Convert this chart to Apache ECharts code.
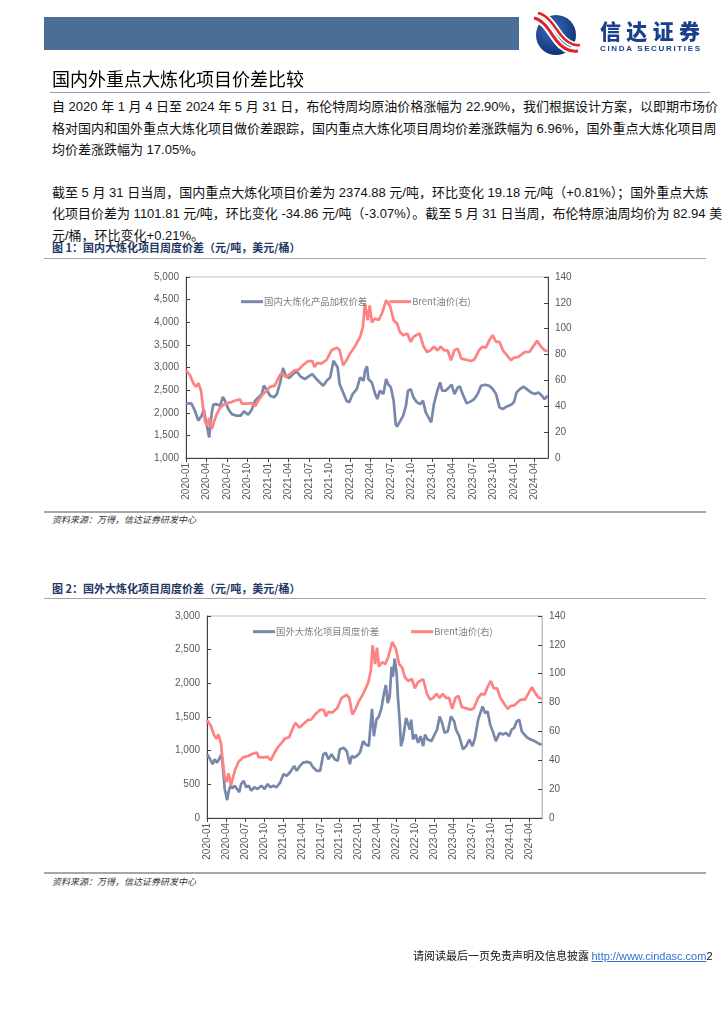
<!DOCTYPE html>
<html><head><meta charset="utf-8">
<script src="https://cdn.jsdelivr.net/npm/echarts@6/dist/echarts.min.js"></script>
<style>
html,body{margin:0;padding:0;background:#fff;}
body{width:724px;height:1024px;position:relative;overflow:hidden;font-family:"Liberation Sans","Noto Sans CJK SC",sans-serif;}
.abs{position:absolute;z-index:2;}
.line{position:absolute;left:52px;width:654px;font-size:13px;color:#111;white-space:nowrap;text-align:justify;text-align-last:justify;line-height:16px;}
.line.last{text-align-last:left;}
.fig{position:absolute;left:52px;font-size:11px;font-weight:bold;color:#1F3864;font-family:"Noto Sans CJK SC",sans-serif;line-height:14px;}
.src{position:absolute;left:52px;font-size:9px;font-style:italic;color:#333;font-family:"Noto Sans CJK SC",sans-serif;line-height:12px;}
#c{position:absolute;left:0;top:0;width:724px;height:1024px;z-index:1;}
</style></head>
<body>
<div class="abs" style="left:44px;top:17px;width:475px;height:33px;background:#4B6E97;"></div>
<svg class="abs" style="left:530px;top:10px" width="180" height="50" viewBox="0 0 180 50">
  <defs><radialGradient id="g" cx="0.4" cy="0.35" r="0.7"><stop offset="0" stop-color="#3a6cc0"/><stop offset="1" stop-color="#0e2f72"/></radialGradient></defs>
  <circle cx="26" cy="25" r="20" fill="url(#g)"/>
  <path d="M4 8 C14 10 20 22 26 30 C32 38 40 42 48 41" stroke="#fff" stroke-width="7" fill="none"/>
  <path d="M4 8 C14 10 20 22 26 30 C32 38 40 42 48 41" stroke="#d9252a" stroke-width="3" fill="none"/>
  <path d="M8 3 C18 5 24 16 30 24 C36 32 42 36 50 35" stroke="#fff" stroke-width="6" fill="none"/>
  <path d="M8 3 C18 5 24 16 30 24 C36 32 42 36 50 35" stroke="#d9252a" stroke-width="2.5" fill="none"/>
  <text x="70" y="29" font-family="Noto Sans CJK SC" font-weight="900" font-size="21" fill="#1B3F8C" textLength="100">信达证券</text>
  <text x="70" y="41" font-family="Liberation Sans" font-weight="bold" font-size="8" fill="#1B3F8C" textLength="100">CINDA SECURITIES</text>
</svg>
<div class="abs" style="left:52px;top:66px;font-size:18px;color:#000;font-family:'Noto Sans CJK SC',sans-serif;line-height:24px;">国内外重点大炼化项目价差比较</div>
<div class="abs" style="left:50px;top:92px;width:660px;height:1px;background:#8EA3BF;"></div>

<div class="line" style="top:99px">自 2020 年 1 月 4 日至 2024 年 5 月 31 日，布伦特周均原油价格涨幅为 22.90%，我们根据设计方案，以即期市场价</div>
<div class="line" style="top:121px">格对国内和国外重点大炼化项目做价差跟踪，国内重点大炼化项目周均价差涨跌幅为 6.96%，国外重点大炼化项目周</div>
<div class="line last" style="top:142px">均价差涨跌幅为 17.05%。</div>
<div class="line" style="top:185px">截至 5 月 31 日当周，国内重点大炼化项目价差为 2374.88 元/吨，环比变化 19.18 元/吨（+0.81%）；国外重点大炼</div>
<div class="line" style="top:206px">化项目价差为 1101.81 元/吨，环比变化 -34.86 元/吨（-3.07%）。截至 5 月 31 日当周，布伦特原油周均价为 82.94 美</div>
<div class="line last" style="top:228px">元/桶，环比变化+0.21%。</div>

<div class="fig" style="top:240px">图 1：国内大炼化项目周度价差（元/吨，美元/桶）</div>
<div class="abs" style="left:44px;top:258px;width:662px;height:1px;background:#A6A6A6;"></div>
<div class="abs" style="left:44px;top:511px;width:662px;height:2px;background:#A6A6A6;"></div>
<div class="src" style="top:514px">资料来源：万得，信达证券研发中心</div>

<div class="fig" style="top:581px">图 2：国外大炼化项目周度价差（元/吨，美元/桶）</div>
<div class="abs" style="left:44px;top:598px;width:662px;height:1px;background:#A6A6A6;"></div>
<div class="abs" style="left:44px;top:872px;width:662px;height:2px;background:#A6A6A6;"></div>
<div class="src" style="top:876px">资料来源：万得，信达证券研发中心</div>

<div class="abs" style="left:413px;top:948px;font-size:11px;color:#111;font-family:'Noto Sans CJK SC',sans-serif;line-height:14px;white-space:nowrap;">请阅读最后一页免责声明及信息披露 <span style="color:#2E74D0;text-decoration:underline;font-family:'Liberation Sans'">http://www.cindasc.com</span><span style="font-family:'Liberation Sans'">2</span></div>

<div id="c"></div>
<script>
// x values: months since 2020-01 (weekly observations, 2020-01-04 .. 2024-05-31)
const xTickStartYear = 2020;
const domesticSpread = [[0,2200],[0.4,2210],[0.8,2200],[1.3,2045],[1.8,1830],[2.3,1935],[2.6,2080],[3.0,1750],[3.4,1455],[3.75,1970],[4.0,2180],[4.5,2190],[5.0,2155],[5.4,2350],[5.7,2265],[6.2,2080],[6.7,1970],[7.4,1935],[8.0,1935],[8.5,2030],[9.1,1957],[9.6,2060],[10.1,2265],[10.6,2340],[11.1,2413],[11.4,2600],[11.9,2490],[12.3,2376],[12.9,2340],[13.3,2413],[13.8,2670],[14.2,2990],[14.6,2818],[15.1,2766],[15.7,2855],[16.2,2914],[16.8,2796],[17.4,2744],[17.9,2796],[18.5,2855],[19.1,2744],[19.6,2670],[20.1,2597],[20.6,2708],[21.1,2780],[21.6,3150],[21.8,3186],[22.2,3000],[22.5,2632],[23.0,2450],[23.5,2265],[23.9,2230],[24.4,2413],[25.0,2523],[25.5,2780],[26.0,2708],[26.2,2928],[26.5,3024],[26.7,2744],[27.2,2670],[27.7,2413],[28.0,2303],[28.4,2487],[28.9,2413],[29.3,2744],[29.6,2633],[30.0,2560],[30.4,2266],[30.7,1750],[30.9,1692],[31.4,1825],[31.8,1935],[32.2,2155],[32.5,2487],[32.9,2523],[33.3,2340],[33.8,2230],[34.3,2192],[34.7,2266],[35.1,2008],[35.5,1898],[35.9,1788],[36.3,2192],[36.8,2487],[37.2,2670],[37.5,2487],[38.0,2487],[38.5,2560],[38.9,2620],[39.3,2413],[39.8,2560],[40.1,2582],[40.5,2413],[41.1,2207],[41.7,2251],[42.2,2303],[42.7,2413],[43.2,2597],[43.8,2620],[44.4,2597],[44.9,2523],[45.4,2413],[45.9,2118],[46.4,2082],[46.9,2133],[47.6,2178],[48.0,2230],[48.4,2450],[48.9,2523],[49.4,2575],[49.9,2523],[50.5,2450],[51.1,2413],[51.6,2450],[52.1,2376],[52.5,2303],[52.95,2375]];
const foreignSpread = [[0,950],[0.5,872],[0.9,800],[1.2,872],[1.6,823],[1.9,800],[2.3,946],[2.5,774],[2.8,431],[3.2,265],[3.4,382],[3.7,480],[4.0,441],[4.4,480],[4.7,456],[5.1,382],[5.4,505],[5.8,554],[6.2,456],[6.6,480],[7.0,407],[7.5,456],[8.0,431],[8.6,480],[9.1,431],[9.6,505],[10.0,456],[10.5,480],[11.0,456],[11.6,529],[12.1,652],[12.6,627],[13.1,676],[13.8,774],[14.2,700],[14.7,774],[15.2,823],[15.8,833],[16.3,823],[16.8,750],[17.4,700],[17.9,700],[18.4,946],[18.8,970],[19.2,872],[19.7,946],[20.2,872],[20.7,848],[21.0,1019],[21.6,1044],[22.1,995],[22.6,800],[22.9,921],[23.3,897],[23.7,921],[24.2,970],[24.7,1142],[25.1,1093],[25.6,1068],[26.1,1620],[26.4,1215],[26.8,1460],[27.2,1509],[27.6,1632],[28.0,1852],[28.3,1975],[28.6,1705],[28.9,1803],[29.2,2244],[29.4,2097],[29.7,2367],[30.0,2146],[30.2,1803],[30.5,1411],[30.7,1068],[31.0,1166],[31.3,1362],[31.5,1485],[31.8,1509],[32.1,1313],[32.3,1460],[32.6,1166],[33.0,1240],[33.4,1117],[33.8,1215],[34.2,1068],[34.5,1240],[34.9,1166],[35.5,1142],[36.0,1240],[36.4,1313],[36.8,1509],[37.2,1411],[37.6,1264],[38.1,1289],[38.6,1509],[39.1,1436],[39.4,1313],[39.9,1215],[40.5,1019],[41.0,1068],[41.5,1166],[42.0,1068],[42.4,1191],[42.9,1460],[43.6,1656],[44.0,1558],[44.4,1583],[44.8,1387],[45.2,1289],[45.7,1142],[46.3,1264],[46.8,1240],[47.3,1264],[47.8,1215],[48.2,1313],[48.6,1338],[49.0,1436],[49.4,1460],[49.8,1289],[50.2,1240],[50.7,1191],[51.2,1166],[51.8,1142],[52.3,1117],[52.7,1093],[52.95,1102]];
const brentPrice = [[0,68],[0.6,64],[1.1,57.5],[1.5,55],[1.8,58],[2.2,52],[2.5,39],[2.8,28],[3.1,25],[3.4,31],[3.8,22.5],[4.1,28],[4.5,34],[5.0,39],[5.7,42],[6.5,43],[7.2,44.5],[7.9,45.3],[8.2,42],[8.9,42],[9.6,42.4],[10.1,40],[10.6,44.5],[11.2,49],[11.8,52],[12.3,55],[13.0,56],[13.6,62.6],[14.0,66],[14.6,62.6],[15.2,65],[15.9,67.8],[16.5,68.3],[17.1,71.7],[17.9,75],[18.5,75],[18.8,70.4],[19.2,73.5],[19.8,73],[20.6,76],[21.3,83.3],[22.1,85.4],[22.5,83.3],[23.0,71.7],[23.5,75.6],[24.0,80.7],[24.7,86],[25.5,93.7],[25.9,101.5],[26.2,119.6],[26.6,106.6],[26.9,118],[27.2,105],[27.7,108],[28.2,106.6],[28.7,111.8],[29.3,122],[29.9,117],[30.4,106.6],[30.9,104],[31.3,97.6],[31.8,95],[32.4,96.3],[32.9,89.8],[33.3,93.7],[33.7,95],[34.2,96.3],[34.8,86],[35.3,82],[35.8,83.3],[36.3,86],[36.8,83.3],[37.3,86],[37.8,83.3],[38.3,83.3],[38.8,75.6],[39.3,83.3],[39.8,84.6],[40.3,76.9],[41.0,76],[41.7,75],[42.2,76],[42.9,83.3],[43.4,86],[43.9,85.4],[44.4,91],[44.9,95],[45.4,89.8],[45.9,89.8],[46.4,83.3],[47.2,78],[47.6,75.6],[48.0,77.6],[48.6,78],[49.1,80],[49.6,82],[50.3,82],[50.8,86],[51.4,90.6],[52.0,86],[52.5,83.3],[52.95,82.9]];
const names1 = ['国内大炼化产品加权价差','Brent油价(右)'];
const names2 = ['国外大炼化项目周度价差','Brent油价(右)'];

const BLUE = '#7788AA', RED = '#FF8282', LBL = '#595959';
const fmtMonth = v => { const y = xTickStartYear + Math.floor(v/12); const m = Math.round(v%12)+1; return y + '-' + (m<10?'0':'') + m; };
const fmtK = v => v.toLocaleString('en-US');

function xAxisFor(g){
  return {gridIndex:g,type:'value',min:0,max:53,interval:3,
    axisLine:{show:true,lineStyle:{color:'#404040',width:1}},
    axisTick:{show:true,inside:false,length:4,lineStyle:{color:'#404040'}},
    axisLabel:{rotate:90,fontSize:10,color:LBL,fontFamily:'Liberation Sans',margin:5,formatter:fmtMonth,showMaxLabel:false,showMinLabel:true},
    splitLine:{show:false}};
}
function yAxisFor(g,min,max,interval,pos,lineColor){
  return {gridIndex:g,type:'value',min:min,max:max,interval:interval,position:pos,
    axisLine:{show:true,lineStyle:{color:lineColor,width:1}},
    axisTick:{show:true,inside:true,length:4,lineStyle:{color:'#404040'}},
    axisLabel:{fontSize:10,color:LBL,fontFamily:'Liberation Sans',margin:7,formatter:fmtK},
    splitLine:{show:false}};
}
function lineSeries(name,data,x,y,color){
  return {name:name,type:'line',data:data,xAxisIndex:x,yAxisIndex:y,showSymbol:false,symbol:'none',
    lineStyle:{color:color,width:2.7},itemStyle:{color:color},animation:false};
}
const legendBase = {icon:'rect',itemWidth:22,itemHeight:3,itemGap:22,
  textStyle:{fontSize:9.4,color:'#7F7F7F',fontFamily:'Noto Sans CJK SC',padding:[0,0,0,-4]}};

const chart = echarts.init(document.getElementById('c'),null,{renderer:'canvas'});
chart.setOption({
  backgroundColor:'transparent',
  animation:false,
  grid:[
    {left:186,top:277,width:362,height:181,show:true,borderColor:'#BFBFBF',borderWidth:1,backgroundColor:'transparent'},
    {left:207,top:616,width:335,height:202,show:true,borderColor:'#BFBFBF',borderWidth:1,backgroundColor:'transparent'}
  ],
  legend:[
    Object.assign({},legendBase,{data:names1,left:236,top:292}),
    Object.assign({},legendBase,{data:names2,left:248,top:622,itemGap:32})
  ],
  xAxis:[xAxisFor(0),xAxisFor(1)],
  yAxis:[
    yAxisFor(0,1000,5000,500,'left','#404040'),
    yAxisFor(0,0,140,20,'right','#404040'),
    yAxisFor(1,0,3000,500,'left','#404040'),
    yAxisFor(1,0,140,20,'right','#BFBFBF')
  ],
  series:[
    lineSeries(names1[0],domesticSpread,0,0,BLUE),
    lineSeries(names1[1],brentPrice,0,1,RED),
    lineSeries(names2[0],foreignSpread,1,2,BLUE),
    lineSeries(names2[1],brentPrice,1,3,RED)
  ]
});
</script>
</body></html>
